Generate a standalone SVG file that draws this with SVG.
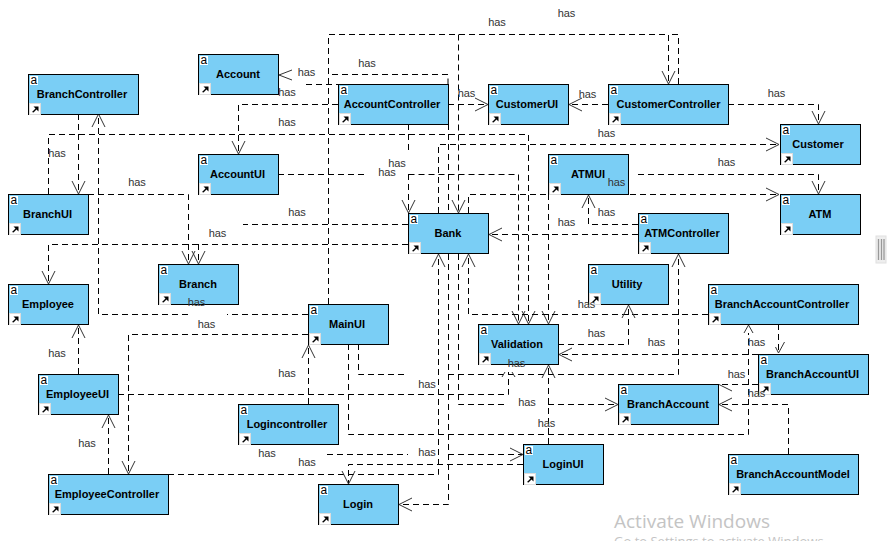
<svg xmlns="http://www.w3.org/2000/svg" width="887" height="541" viewBox="0 0 887 541">
<style>
.n{fill:#7acef5;stroke:#000;stroke-width:1}
.t{font:bold 11px "Liberation Sans",Arial,sans-serif;text-anchor:middle;fill:#000}
.a{font:12px "Liberation Sans",Arial,sans-serif;fill:#000}
.h{font:11px "Liberation Sans",Arial,sans-serif;text-anchor:middle;fill:#333}
.c path{fill:none;stroke:#000;stroke-width:1;stroke-dasharray:6 4}
.c path.m{marker-end:url(#v)}
.c path.b{stroke:#333;stroke-dasharray:none}
</style>
<defs>
<marker id="v" markerUnits="userSpaceOnUse" markerWidth="30" markerHeight="30" refX="15" refY="15" orient="auto" overflow="visible"><path d="M2,8.5L15,15L2,21.5" fill="none" stroke="#333" stroke-width="1"/></marker>
<g id="s"><rect x=".5" y=".5" width="11" height="11" fill="#fff" stroke="#ddd"/><path d="M3,9L6.5,5.5L4.5,3.5H9.5V8.5L7.5,6.5L4.5,9.5Z" fill="#000"/></g>
</defs>
<rect width="887" height="541" fill="#fff"/>
<g id="connectors" class="c">
<path d="M448,84.500V74.500H328"/>
<path d="M306,84.500H338"/>
<path d="M328.500,304V34.500H668.500V84" class="m"/>
<path d="M678.500,84V34.500H669"/>
<path d="M458.500,34.500V213" class="m"/>
<path d="M338,104.500H238.500V154" class="m"/>
<path d="M48.500,194V134.500H528.500V324" class="m"/>
<path d="M78.500,114V194" class="m"/>
<path d="M308,314.500H227M188,314.500H98.500V114" class="m"/>
<path d="M88,194.500H188.500V264" class="m"/>
<path d="M408,244.500H48.500V284" class="m"/>
<path d="M408,224.500H243M198.500,244V264" class="m"/>
<path d="M408.500,124V150M408.500,174V213" class="m"/>
<path d="M408.500,174.500H518.500V324" class="m"/>
<path d="M278,174.500H364"/>
<path d="M438.500,213V144.500H779" class="m"/>
<path d="M468.500,213V194.500H779" class="m"/>
<path d="M638,174.500H818.500V194" class="m"/>
<path d="M728,104.500H818.500V124" class="m"/>
<path d="M608,104.500H569" class="m"/>
<path d="M448,104.500H488" class="m"/>
<path d="M638,224.500H588.500V195" class="m"/>
<path d="M638,234.500H489" class="m"/>
<path d="M548.500,194V324" class="m"/>
<path d="M708,314.500H468.500V254" class="m"/>
<path d="M558,344.500H628.500V305" class="m"/>
<path d="M778.500,324V354"/>
<path d="M348.500,344V434.500H748.500V333"/>
<path d="M758,354.500H559" class="m"/>
<path d="M758,384.500H719"/>
<path d="M788.500,454V404.500H719" class="m"/>
<path d="M358.500,344V374.500H408M448,374.500H678.500V254" class="m"/>
<path d="M118,394.500H508.500V372"/>
<path d="M168,474.500H438.500V254" class="m"/>
<path d="M448.500,124V504.500H399" class="m"/>
<path d="M458.500,254V404.500H508M548,404.500H618" class="m"/>
<path d="M308.500,404V345" class="m"/>
<path d="M288.500,424V430M327,454.500H408M448,454.500H523" class="m"/>
<path d="M523,464.500H348.500V484" class="m"/>
<path d="M108.500,474V415" class="m"/>
<path d="M78.500,374V325" class="m"/>
<path d="M308,334.500H128.500V474" class="m"/>
<path d="M548.500,444V365" class="m"/>
<path class="b" d="M292,70L279,75L292,80M744,333L748.500,325L753,333M775.500,347L778.500,353L784.500,342M719,384.500L732,391M505,372L502,377M512,372L515,377"/>
</g>
<g id="Account"><rect class="n" x="198.500" y="54.500" width="80" height="40"/><rect x="200" y="56" width="8" height="9" fill="#fff"/><text class="a" x="200.500" y="64">a</text><use href="#s" x="199" y="83"/><text class="t" x="238" y="78">Account</text></g>
<g id="BranchController"><rect class="n" x="28.500" y="74.500" width="110" height="40"/><rect x="30" y="76" width="8" height="9" fill="#fff"/><text class="a" x="30.500" y="84">a</text><use href="#s" x="29" y="103"/><text class="t" x="82" y="98">BranchController</text></g>
<g id="AccountController"><rect class="n" x="338.500" y="84.500" width="110" height="40"/><rect x="340" y="86" width="8" height="9" fill="#fff"/><text class="a" x="340.500" y="94">a</text><use href="#s" x="339" y="113"/><text class="t" x="392" y="108">AccountController</text></g>
<g id="CustomerUI"><rect class="n" x="488.500" y="84.500" width="80" height="40"/><rect x="490" y="86" width="8" height="9" fill="#fff"/><text class="a" x="490.500" y="94">a</text><use href="#s" x="489" y="113"/><text class="t" x="527" y="108">CustomerUI</text></g>
<g id="CustomerController"><rect class="n" x="608.500" y="84.500" width="120" height="40"/><rect x="610" y="86" width="8" height="9" fill="#fff"/><text class="a" x="610.500" y="94">a</text><use href="#s" x="609" y="113"/><text class="t" x="668.500" y="108">CustomerController</text></g>
<g id="Customer"><rect class="n" x="780.500" y="124.500" width="80" height="40"/><rect x="782" y="126" width="8" height="9" fill="#fff"/><text class="a" x="782.500" y="134">a</text><use href="#s" x="781" y="153"/><text class="t" x="818" y="148">Customer</text></g>
<g id="AccountUI"><rect class="n" x="198.500" y="154.500" width="80" height="40"/><rect x="200" y="156" width="8" height="9" fill="#fff"/><text class="a" x="200.500" y="164">a</text><use href="#s" x="199" y="183"/><text class="t" x="237.500" y="178">AccountUI</text></g>
<g id="ATMUI"><rect class="n" x="548.500" y="154.500" width="80" height="40"/><rect x="550" y="156" width="8" height="9" fill="#fff"/><text class="a" x="550.500" y="164">a</text><use href="#s" x="549" y="183"/><text class="t" x="588" y="178">ATMUI</text></g>
<g id="BranchUI"><rect class="n" x="8.500" y="194.500" width="80" height="40"/><rect x="10" y="196" width="8" height="9" fill="#fff"/><text class="a" x="10.500" y="204">a</text><use href="#s" x="9" y="223"/><text class="t" x="47.500" y="218">BranchUI</text></g>
<g id="ATM"><rect class="n" x="780.500" y="194.500" width="80" height="40"/><rect x="782" y="196" width="8" height="9" fill="#fff"/><text class="a" x="782.500" y="204">a</text><use href="#s" x="781" y="223"/><text class="t" x="820" y="218">ATM</text></g>
<g id="Bank"><rect class="n" x="408.500" y="213.500" width="80" height="40"/><rect x="410" y="215" width="8" height="9" fill="#fff"/><text class="a" x="410.500" y="223">a</text><use href="#s" x="409" y="242"/><text class="t" x="448" y="237">Bank</text></g>
<g id="ATMController"><rect class="n" x="638.500" y="213.500" width="90" height="40"/><rect x="640" y="215" width="8" height="9" fill="#fff"/><text class="a" x="640.500" y="223">a</text><use href="#s" x="639" y="242"/><text class="t" x="682" y="237">ATMController</text></g>
<g id="Branch"><rect class="n" x="158.500" y="264.500" width="80" height="40"/><rect x="160" y="266" width="8" height="9" fill="#fff"/><text class="a" x="160.500" y="274">a</text><use href="#s" x="159" y="293"/><text class="t" x="198" y="288">Branch</text></g>
<g id="Utility"><rect class="n" x="588.500" y="264.500" width="80" height="40"/><rect x="590" y="266" width="8" height="9" fill="#fff"/><text class="a" x="590.500" y="274">a</text><use href="#s" x="589" y="293"/><text class="t" x="627" y="288">Utility</text></g>
<g id="Employee"><rect class="n" x="8.500" y="284.500" width="80" height="40"/><rect x="10" y="286" width="8" height="9" fill="#fff"/><text class="a" x="10.500" y="294">a</text><use href="#s" x="9" y="313"/><text class="t" x="48" y="308">Employee</text></g>
<g id="BranchAccountController"><rect class="n" x="708.500" y="284.500" width="150" height="40"/><rect x="710" y="286" width="8" height="9" fill="#fff"/><text class="a" x="710.500" y="294">a</text><use href="#s" x="709" y="313"/><text class="t" x="782" y="308">BranchAccountController</text></g>
<g id="MainUI"><rect class="n" x="308.500" y="304.500" width="80" height="40"/><rect x="310" y="306" width="8" height="9" fill="#fff"/><text class="a" x="310.500" y="314">a</text><use href="#s" x="309" y="333"/><text class="t" x="347" y="328">MainUI</text></g>
<g id="Validation"><rect class="n" x="478.500" y="324.500" width="80" height="40"/><rect x="480" y="326" width="8" height="9" fill="#fff"/><text class="a" x="480.500" y="334">a</text><use href="#s" x="479" y="353"/><text class="t" x="517" y="348">Validation</text></g>
<g id="BranchAccountUI"><rect class="n" x="758.500" y="354.500" width="110" height="40"/><rect x="760" y="356" width="8" height="9" fill="#fff"/><text class="a" x="760.500" y="364">a</text><use href="#s" x="759" y="383"/><text class="t" x="812.500" y="378">BranchAccountUI</text></g>
<g id="EmployeeUI"><rect class="n" x="38.500" y="374.500" width="80" height="40"/><rect x="40" y="376" width="8" height="9" fill="#fff"/><text class="a" x="40.500" y="384">a</text><use href="#s" x="39" y="403"/><text class="t" x="77.500" y="398">EmployeeUI</text></g>
<g id="BranchAccount"><rect class="n" x="618.500" y="384.500" width="100" height="40"/><rect x="620" y="386" width="8" height="9" fill="#fff"/><text class="a" x="620.500" y="394">a</text><use href="#s" x="619" y="413"/><text class="t" x="668" y="408">BranchAccount</text></g>
<g id="Logincontroller"><rect class="n" x="238.500" y="404.500" width="100" height="40"/><rect x="240" y="406" width="8" height="9" fill="#fff"/><text class="a" x="240.500" y="414">a</text><use href="#s" x="239" y="433"/><text class="t" x="287" y="428">Logincontroller</text></g>
<g id="LoginUI"><rect class="n" x="523.500" y="444.500" width="80" height="40"/><rect x="525" y="446" width="8" height="9" fill="#fff"/><text class="a" x="525.500" y="454">a</text><use href="#s" x="524" y="473"/><text class="t" x="563" y="468">LoginUI</text></g>
<g id="BranchAccountModel"><rect class="n" x="728.500" y="454.500" width="130" height="40"/><rect x="730" y="456" width="8" height="9" fill="#fff"/><text class="a" x="730.500" y="464">a</text><use href="#s" x="729" y="483"/><text class="t" x="793" y="478">BranchAccountModel</text></g>
<g id="EmployeeController"><rect class="n" x="48.500" y="474.500" width="120" height="40"/><rect x="50" y="476" width="8" height="9" fill="#fff"/><text class="a" x="50.500" y="484">a</text><use href="#s" x="49" y="503"/><text class="t" x="107" y="498">EmployeeController</text></g>
<g id="Login"><rect class="n" x="318.500" y="484.500" width="80" height="40"/><rect x="320" y="486" width="8" height="9" fill="#fff"/><text class="a" x="320.500" y="494">a</text><use href="#s" x="319" y="513"/><text class="t" x="358" y="508">Login</text></g>
<g id="labels">
<text class="h" x="306.500" y="76">has</text><text class="h" x="367" y="67">has</text><text class="h" x="287" y="96">has</text><text class="h" x="287" y="126">has</text><text class="h" x="57" y="157">has</text><text class="h" x="397" y="167">has</text><text class="h" x="387" y="176">has</text><text class="h" x="137" y="186">has</text><text class="h" x="297" y="216">has</text><text class="h" x="217.500" y="237">has</text><text class="h" x="497" y="26">has</text><text class="h" x="566.500" y="17">has</text><text class="h" x="466.500" y="97">has</text><text class="h" x="587.500" y="98">has</text><text class="h" x="776.500" y="97">has</text><text class="h" x="606.500" y="137">has</text><text class="h" x="726.500" y="166">has</text><text class="h" x="616.500" y="186">has</text><text class="h" x="606.500" y="216">has</text><text class="h" x="566.500" y="226">has</text><text class="h" x="196.500" y="306">has</text><text class="h" x="206.500" y="328">has</text><text class="h" x="57" y="357">has</text><text class="h" x="287" y="377">has</text><text class="h" x="427" y="388">has</text><text class="h" x="87" y="447">has</text><text class="h" x="267" y="457">has</text><text class="h" x="427" y="456">has</text><text class="h" x="307" y="466">has</text><text class="h" x="586.500" y="308">has</text><text class="h" x="596.500" y="337">has</text><text class="h" x="656.500" y="346">has</text><text class="h" x="516.500" y="367">has</text><text class="h" x="756.500" y="346">has</text><text class="h" x="736.500" y="378">has</text><text class="h" x="756.500" y="397">has</text><text class="h" x="527" y="406">has</text><text class="h" x="546.500" y="427">has</text>
</g>
<text x="614" y="528" font-family="Open Sans, Noto Sans, sans-serif" font-size="19" fill="#c4c4c4">Activate Windows</text>
<text x="614" y="546" font-family="Open Sans, Noto Sans, sans-serif" font-size="13" fill="#c4c4c4">Go to Settings to activate Windows.</text>
<rect x="876" y="236" width="10" height="27" fill="#eee" stroke="#e0e0e0"/>
<path d="M878.500,239V260M881.500,239V260M884,239V260" stroke="#999" stroke-width="1.300" fill="none"/>
</svg>
